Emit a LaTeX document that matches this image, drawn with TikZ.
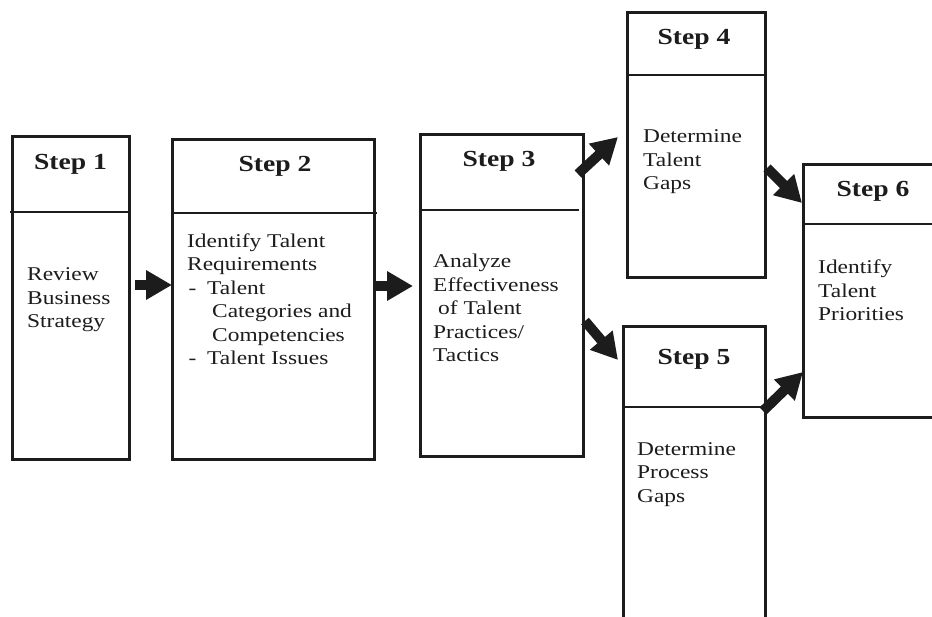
\documentclass[tikz,border=0pt]{standalone}
\usepackage{fontspec}
\setmainfont{Liberation Serif}[FakeStretch=1.2]
\usetikzlibrary{arrows.meta,calc}
\definecolor{ink}{RGB}{28,28,28}
\begin{document}
\begin{tikzpicture}[x=1pt,y=-1pt,
  stepframe/.style={draw=ink, line width=3pt, rectangle, inner sep=0pt, outer sep=0pt, anchor=north west},
  divider/.style={draw=ink, line width=1.3pt},
  steptitle/.style={anchor=base, inner sep=0pt, text=ink, font=\fontsize{23}{27}\selectfont\bfseries},
  stepbody/.style={anchor=base west, inner sep=0pt, align=left, text=ink, font=\fontsize{19.5}{23.5}\selectfont},
  bigarrow/.style={draw=ink, line width=10pt, -{Triangle[length=26pt,width=28pt]}}]
\useasboundingbox (0,0) rectangle (932,617);
\clip (0,0) rectangle (932,617);
\fill[white] (0,0) rectangle (932,617);

% frames
\node[stepframe, minimum width=117pt, minimum height=323pt] (s1) at (12,137) {};
\node[stepframe, minimum width=202pt, minimum height=320pt] (s2) at (172,140) {};
\node[stepframe, minimum width=163pt, minimum height=322pt] (s3) at (420,135) {};
\node[stepframe, minimum width=138pt, minimum height=265pt] (s4) at (627,13) {};
\node[stepframe, minimum width=142pt, minimum height=330pt] (s5) at (623,327) {};
\node[stepframe, minimum width=140pt, minimum height=253pt] (s6) at (803,165) {};

% header dividers
\draw[divider] ($(s1.west |- 0,212)+(-2,0)$) -- ($(s1.east |- 0,212)+(1,0)$);
\draw[divider] (s2.west |- 0,213) -- ($(s2.east |- 0,213)+(3,0)$);
\draw[divider] ($(s3.west |- 0,210)+(2,0)$) -- ($(s3.east |- 0,210)+(-4,0)$);
\draw[divider] (s4.west |- 0,75) -- ($(s4.east |- 0,75)+(2,0)$);
\draw[divider] (s5.west |- 0,407) -- (s5.east |- 0,407);
\draw[divider] (s6.west |- 0,224) -- (s6.east |- 0,224);

% titles
\node[steptitle] (t1) at (70.5,170) {Step 1};
\node[steptitle] (t2) at (275,172) {Step 2};
\node[steptitle] (t3) at (499,167) {Step 3};
\node[steptitle] (t4) at (694,45) {Step 4};
\node[steptitle] (t5) at (694,365) {Step 5};
\node[steptitle] (t6) at (873,197) {Step 6};

% descriptions (placed by the baseline of their last line)
\node[stepbody] (b1) at (27,328) {Review\\Business\\Strategy};
\node[stepbody] (b2) at (187,365) {Identify Talent\\Requirements\\
  \makebox[20pt][l]{\hspace*{1.5pt}-}Talent\\
  \hspace*{25pt}Categories and\\
  \hspace*{25pt}Competencies\\
  \makebox[20pt][l]{\hspace*{1.5pt}-}Talent Issues};
\node[stepbody] (b3) at (433,362) {Analyze\\Effectiveness\\\hspace*{5pt}of Talent\\Practices/\\Tactics};
\node[stepbody] (b4) at (643,190) {Determine\\Talent\\Gaps};
\node[stepbody] (b5) at (637,502) {Determine\\Process\\Gaps};
\node[stepbody] (b6) at (818,321) {Identify\\Talent\\Priorities};

% flow arrows
\draw[bigarrow] ($(s1.east |- 0,285)+(6,0)$) -- (s2.west |- 0,285);
\draw[bigarrow] ($(s2.east |- 0,286)+(1,0)$) -- ($(s3.west |- 0,286)+(-7,0)$);
\draw[bigarrow] ($(s3.east |- 0,174)+(-5,0)$) -- ($(s4.west |- 0,137)+(-9,0)$);
\draw[bigarrow] ($(s3.east |- 0,321)+(2,0)$) -- ($(s5.west |- 0,360)+(-5,0)$);
\draw[bigarrow] ($(s4.east |- 0,168)+(2,0)$) -- ($(s6.west |- 0,203)+(-1,0)$);
\draw[bigarrow] ($(s5.east |- 0,411)+(-2,0)$) -- (s6.west |- 0,372);
\end{tikzpicture}
\end{document}
